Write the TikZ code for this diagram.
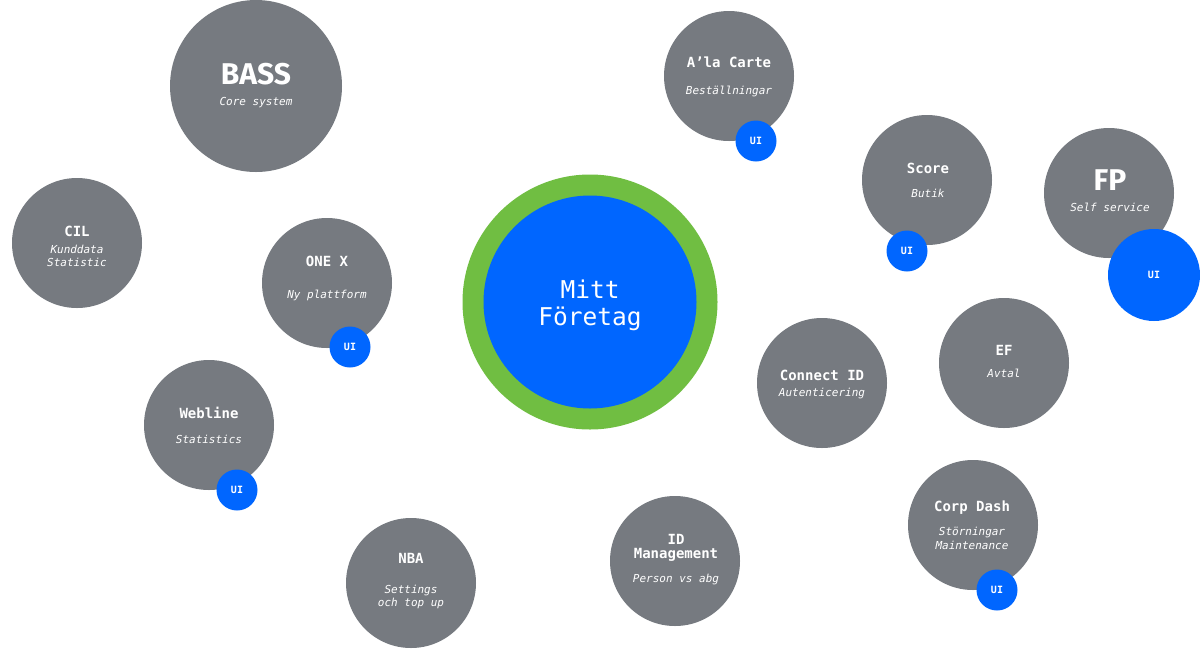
\documentclass[tikz,border=0pt]{standalone}
\usepackage{fontspec}
\setmonofont{DejaVu Sans Mono}
\newfontfamily\bigsans{Fira Sans}
\definecolor{sysgray}{RGB}{118,122,128}
\definecolor{uiblue}{RGB}{0,102,255}
\definecolor{ringgreen}{RGB}{112,190,66}
\tikzset{
  sys/.style={circle, fill=sysgray, inner sep=0pt, minimum size=130pt},
  bigsys/.style={circle, fill=sysgray, inner sep=0pt, minimum size=172pt},
  uidot/.style={circle, fill=uiblue, inner sep=0pt, minimum size=41pt, text=white, font=\ttfamily\bfseries\fontsize{10}{12}\selectfont},
  uibig/.style={circle, fill=uiblue, inner sep=0pt, minimum size=92pt, text=white, font=\ttfamily\bfseries\fontsize{10}{12}\selectfont},
  ttl/.style={anchor=base, inner sep=0pt, text=white, font=\ttfamily\bfseries\fontsize{14}{16}\selectfont},
  sub/.style={anchor=base, inner sep=0pt, text=white, font=\ttfamily\itshape\fontsize{11}{13}\selectfont},
  bigttl/.style={anchor=base, inner sep=0pt, text=white, font=\bigsans\bfseries\fontsize{30}{32}\selectfont},
  centertxt/.style={anchor=base, inner sep=0pt, text=white, font=\ttfamily\fontsize{24.5}{27}\selectfont},
}
\begin{document}
\begin{tikzpicture}[x=1pt,y=-1pt]
\useasboundingbox[fill=white] (0,0) rectangle (1200,649);

% central
\node[circle, fill=ringgreen, inner sep=0pt, minimum size=255pt] (mittring) at (590,302) {};
\node[circle, fill=uiblue, inner sep=0pt, minimum size=213pt] (mitt) at (590,302) {};
\node[centertxt] (mittA) at (590,298) {Mitt};
\node[centertxt] (mittB) at (590,325) {Företag};

% BASS
\node[bigsys] (bass) at (256,86) {};
\node[bigttl] (bassT) at (256,84.5) {BASS};
\node[sub] (bassS) at (256,105.5) {Core system};

% CIL
\node[sys] (cil) at (77,243) {};
\node[ttl] (cilT) at (77,236) {CIL};
\node[sub] (cilS1) at (77,253.5) {Kunddata};
\node[sub] (cilS2) at (77,266.5) {Statistic};

% ONE X
\node[sys] (onex) at (327,283) {};
\node[ttl] (onexT) at (327,266) {ONE X};
\node[sub] (onexS) at (327,298.5) {Ny plattform};
\node[uidot] (onexUI) at (350,347) {UI};

% Webline
\node[sys] (web) at (209,425) {};
\node[ttl] (webT) at (209,418) {Webline};
\node[sub] (webS) at (209,443.5) {Statistics};
\node[uidot] (webUI) at (237,490) {UI};

% NBA
\node[sys] (nba) at (411,583) {};
\node[ttl] (nbaT) at (411,563) {NBA};
\node[sub] (nbaS1) at (411,593.5) {Settings};
\node[sub] (nbaS2) at (411,606.5) {och top up};

% A'la Carte
\node[sys] (ala) at (729,76) {};
\node[ttl] (alaT) at (729,67) {A’la Carte};
\node[sub] (alaS) at (729,94.5) {Beställningar};
\node[uidot] (alaUI) at (756,141) {UI};

% Score
\node[sys] (score) at (927,180) {};
\node[ttl] (scoreT) at (928,173) {Score};
\node[sub] (scoreS) at (928,197.5) {Butik};
\node[uidot] (scoreUI) at (907,251) {UI};

% FP
\node[sys] (fp) at (1109,193) {};
\node[bigttl] (fpT) at (1110,190.5) {FP};
\node[sub] (fpS) at (1110,211.5) {Self service};
\node[uibig] (fpUI) at (1154,275) {UI};

% Connect ID
\node[sys] (cid) at (822,383) {};
\node[ttl] (cidT) at (822,380) {Connect ID};
\node[sub] (cidS) at (822,396.5) {Autenticering};

% EF
\node[sys] (ef) at (1004,363) {};
\node[ttl] (efT) at (1004,355) {EF};
\node[sub] (efS) at (1004,377.5) {Avtal};

% Corp Dash
\node[sys] (cd) at (973,525) {};
\node[ttl] (cdT) at (972,511) {Corp Dash};
\node[sub] (cdS1) at (972,535.5) {Störningar};
\node[sub] (cdS2) at (972,549.5) {Maintenance};
\node[uidot] (cdUI) at (997,590) {UI};

% ID Management
\node[sys] (idm) at (675,561) {};
\node[ttl] (idmT1) at (676,544) {ID};
\node[ttl] (idmT2) at (676,558) {Management};
\node[sub] (idmS) at (676,582.5) {Person vs abg};
\end{tikzpicture}
\end{document}
